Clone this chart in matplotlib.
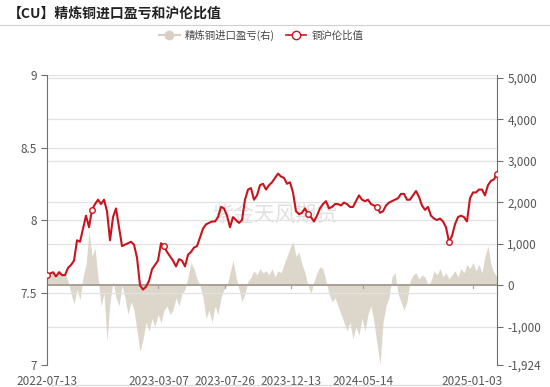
import matplotlib
matplotlib.use("Agg")
import matplotlib.pyplot as plt
import matplotlib.ticker as mticker
import numpy as np
import pandas as pd
from matplotlib.lines import Line2D

plt.rcParams['font.family'] = ['Noto Sans CJK SC', 'DejaVu Sans']

title = "【CU】精炼铜进口盈亏和沪伦比值"
series_area_name = "精炼铜进口盈亏(右)"
series_line_name = "铜沪伦比值"
start_date = "2022-07-13"
end_date = "2025-02-24"
tick_dates = ["2022-07-13", "2023-03-07", "2023-07-26", "2023-12-13", "2024-05-14", "2025-01-03"]

ratio = [7.62, 7.63, 7.64, 7.61, 7.64, 7.62, 7.62, 7.67, 7.69, 7.72,
         7.86, 7.85, 7.94, 8.03, 7.95, 8.07, 8.11, 8.14, 8.11, 8.14,
         8.06, 7.86, 8.02, 8.08, 7.95, 7.82, 7.83, 7.84, 7.85, 7.83,
         7.74, 7.55, 7.52, 7.54, 7.58, 7.66, 7.69, 7.72, 7.84, 7.82,
         7.78, 7.75, 7.72, 7.68, 7.73, 7.72, 7.68, 7.76, 7.78, 7.81,
         7.82, 7.88, 7.94, 7.97, 7.98, 7.99, 7.99, 8.02, 8.09, 8.08,
         8.03, 7.95, 8.02, 8.00, 7.98, 8.00, 8.14, 8.21, 8.22, 8.14,
         8.17, 8.24, 8.25, 8.21, 8.24, 8.26, 8.29, 8.32, 8.30, 8.29,
         8.25, 8.26, 8.19, 8.06, 8.04, 8.05, 8.08, 8.04, 8.02, 7.99,
         8.03, 8.08, 8.11, 8.13, 8.08, 8.09, 8.11, 8.11, 8.10, 8.12,
         8.11, 8.09, 8.09, 8.13, 8.17, 8.14, 8.13, 8.14, 8.11, 8.10,
         8.09, 8.05, 8.06, 8.10, 8.12, 8.13, 8.14, 8.15, 8.18, 8.18,
         8.14, 8.14, 8.17, 8.20, 8.16, 8.10, 8.07, 8.09, 8.03, 8.01,
         8.00, 8.01, 7.99, 7.95, 7.85, 7.89, 7.97, 8.02, 8.03, 8.02,
         7.99, 8.15, 8.19, 8.19, 8.21, 8.21, 8.17, 8.24, 8.27, 8.28,
         8.32]

profit = [300, 200, 350, 150, 400, 250, 300, 100, -200, -450,
          -100, -350, 200, 500, 1300, 700, 900, 200, -500, -200,
          -1350, -400, 100, -300, -500, 0, -300, -700, -400, -600,
          -1100, -1600, -1300, -900, -1100, -800, -1000, -700, -900, -600,
          -500, -700, -600, -300, -500, -200, -100, 200, 550, 400,
          150, 0, -300, -800, -600, -900, -500, -700, -300, -100,
          0, 300, 600, 200, -100, -400, -200, 100, 200, 350,
          250, 400, 300, 350, 250, 400, 200, 350, 300, 500,
          700, 900, 1050, 700, 800, 500, 300, 0, -200, 100,
          300, 450, 400, 100, -200, -400, -300, -500, -700, -900,
          -1100, -900, -1300, -1000, -1200, -800, -1100, -700, -500, -900,
          -1400, -1924, -900, -500, -300, 200, 300, -200, -400, -600,
          -400, 100, 250, 300, 150, 250, 200, 0, 100, 350,
          250, 400, 200, 300, 150, 250, 350, 200, 400, 300,
          500, 400, 550, 350, 500, 300, 700, 950, 500, 300,
          200]

marker_idx = [0, 15, 39, 87, 110, 134, 150]

red = "#c8141e"
beige = "#d8cfc2"
axis_col = "#6e6e6e"
grid_col = "#e2e2e2"
text_col = "#555555"

dates = pd.date_range(start_date, end_date, periods=len(ratio))

fig = plt.figure(figsize=(5.5, 3.87), dpi=100)
ax = fig.add_axes([0.0855, 0.0568, 0.8181, 0.7494])
ax2 = ax.twinx()

# right axis: area
ax2.set_ylim(-1924, 5073)
ax2.fill_between(dates, 0, profit, color=beige, alpha=0.85, linewidth=0, zorder=1)
ax2.set_yticks([-1924, -1000, 0, 1000, 2000, 3000, 4000, 5000])
ax2.yaxis.set_major_formatter(mticker.FuncFormatter(lambda v, p: f"{int(round(v)):,}"))
for v in [-1000, 0, 1000, 2000, 3000, 4000, 5000]:
    ax2.axhline(v, color=grid_col, lw=0.9, zorder=0)
ax2.axhline(0, color="#a8a096", lw=1.4, zorder=2)

# left axis: ratio
ax.set_ylim(7, 9)
ax.set_yticks([7, 7.5, 8, 8.5, 9])
ax.yaxis.set_major_formatter(mticker.FuncFormatter(lambda v, p: f"{v:g}"))
for v in [7.5, 8, 8.5, 9]:
    ax.axhline(v, color=grid_col, lw=0.9, zorder=0)

ax.set_zorder(ax2.get_zorder() + 1)
ax.patch.set_visible(False)
ax.plot(dates, ratio, color=red, lw=1.5, zorder=5,
        marker='o', markevery=marker_idx, markersize=4,
        markerfacecolor='white', markeredgecolor=red, markeredgewidth=1)

ax.set_xlim(dates[0], dates[-1])
ax.set_xticks(pd.to_datetime(tick_dates))
ax.set_xticklabels(tick_dates)

for a in (ax, ax2):
    for s in ['top', 'bottom']:
        a.spines[s].set_visible(False)
    a.spines['left'].set_color(axis_col)
    a.spines['right'].set_color(axis_col)
    a.tick_params(axis='y', colors=axis_col, labelcolor=text_col, labelsize=8.5, length=4, width=0.8)
ax.spines['right'].set_visible(False)
ax2.spines['left'].set_visible(False)
ax.tick_params(axis='x', length=0, labelsize=8.5, labelcolor=text_col, pad=7)

# small tick marks on the zero line
for d in pd.to_datetime(tick_dates)[1:]:
    ax2.plot([d, d], [0, -60], color="#a8a096", lw=0.8, zorder=3)

# watermark
fig.text(0.50, 0.445, "紫金天风期货", fontsize=15, color="#cccccc", alpha=0.6,
         ha='center', va='center', zorder=0)

# title and separator
fig.text(0.015, 0.965, title, fontsize=10, fontweight='bold', color="#222222",
         ha='left', va='center')
fig.add_artist(Line2D([0, 1], [0.935, 0.935], color="#d0d0d0", lw=0.8))

# legend
h1 = Line2D([], [], color=beige, lw=1.5, marker='o', markersize=6,
            markerfacecolor=beige, markeredgecolor=beige)
h2 = Line2D([], [], color=red, lw=1.2, marker='o', markersize=6,
            markerfacecolor='white', markeredgecolor=red)
fig.legend([h1, h2], [series_area_name, series_line_name], loc='center',
           bbox_to_anchor=(0.475, 0.908), ncol=2, frameon=False, fontsize=7.5,
           handlelength=2.0, columnspacing=1.0, handletextpad=0.5,
           labelcolor="#444444")

# datazoom remnant at bottom
fig.add_artist(Line2D([0.087, 0.86], [0.004, 0.004], color="#dddddd", lw=1.0))

fig.savefig("out.png", dpi=100)
